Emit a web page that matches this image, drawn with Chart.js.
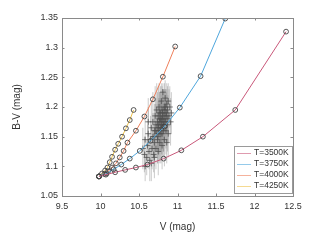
<!DOCTYPE html>
<html lang="en">
<head>
    <meta charset="UTF-8">
    <title>B-V vs V model tracks</title>
    <script src="https://cdn.jsdelivr.net/npm/chart.js"></script>
    <style>
        body { margin: 0; background: #fff; }
        canvas { display: block; }
    </style>
</head>
<body>
    <canvas id="myChart" width="323" height="242"></canvas>

    <script>
        // model tracks, one per temperature
        var trackLabels = ['T=3500K', 'T=3750K', 'T=4000K', 'T=4250K'];
        var trackColors = ['#c9587a', '#4ea6dc', '#ee7f5a', '#eec24a'];

        var v3500  = [9.98, 10.07, 10.19, 10.32, 10.46, 10.61, 10.82, 11.05, 11.33, 11.75, 12.41];
        var bv3500 = [1.083, 1.086, 1.090, 1.094, 1.098, 1.103, 1.113, 1.127, 1.150, 1.195, 1.327];

        var v3750  = [9.98, 10.08, 10.17, 10.27, 10.38, 10.51, 10.65, 10.83, 11.03, 11.30, 11.62];
        var bv3750 = [1.083, 1.088, 1.095, 1.103, 1.113, 1.126, 1.143, 1.167, 1.199, 1.252, 1.349];

        var v4000  = [9.98, 10.05, 10.10, 10.15, 10.20, 10.25, 10.30, 10.35, 10.46, 10.57, 10.68, 10.81, 10.97];
        var bv4000 = [1.083, 1.087, 1.092, 1.098, 1.105, 1.115, 1.126, 1.140, 1.160, 1.184, 1.213, 1.251, 1.302];

        var v4250  = [9.98, 10.02, 10.06, 10.09, 10.12, 10.15, 10.19, 10.23, 10.28, 10.33, 10.38, 10.43];
        var bv4250 = [1.083, 1.088, 1.093, 1.098, 1.107, 1.116, 1.128, 1.138, 1.150, 1.164, 1.178, 1.195];

        // observed stars with errors
        var starV = [10.55, 10.57, 10.58, 10.60, 10.61, 10.62, 10.63, 10.64, 10.65, 10.66,
                     10.67, 10.68, 10.68, 10.69, 10.70, 10.70, 10.71, 10.72, 10.72, 10.73,
                     10.73, 10.74, 10.74, 10.75, 10.75, 10.76, 10.76, 10.77, 10.77, 10.78,
                     10.78, 10.79, 10.79, 10.80, 10.80, 10.80, 10.81, 10.81, 10.82, 10.82,
                     10.83, 10.83, 10.84, 10.84, 10.85, 10.85, 10.86, 10.86, 10.87, 10.87,
                     10.88, 10.88, 10.89, 10.90, 10.91, 10.92, 10.66, 10.70, 10.58, 10.62,
                     10.75, 10.80, 10.86, 10.78, 10.82, 10.76, 10.84, 10.79,
                     10.735, 10.755, 10.765, 10.775, 10.785, 10.795, 10.805, 10.815, 10.825, 10.835,
                     10.745, 10.765, 10.785, 10.805, 10.825, 10.845, 10.695, 10.715, 10.855, 10.875];
        var starBV = [1.130, 1.120, 1.145, 1.115, 1.135, 1.155, 1.125, 1.110, 1.145, 1.165,
                      1.130, 1.150, 1.175, 1.120, 1.160, 1.140, 1.185, 1.170, 1.130, 1.155,
                      1.195, 1.175, 1.145, 1.165, 1.185, 1.200, 1.155, 1.175, 1.140, 1.190,
                      1.165, 1.210, 1.180, 1.170, 1.155, 1.195, 1.185, 1.225, 1.175, 1.160,
                      1.200, 1.145, 1.190, 1.215, 1.175, 1.160, 1.205, 1.185, 1.195, 1.170,
                      1.210, 1.155, 1.185, 1.200, 1.175, 1.190, 1.105, 1.115, 1.100, 1.175,
                      1.125, 1.135, 1.140, 1.180, 1.170, 1.160, 1.180, 1.165,
                      1.165, 1.170, 1.180, 1.160, 1.175, 1.170, 1.180, 1.165, 1.185, 1.175,
                      1.150, 1.190, 1.155, 1.190, 1.195, 1.200, 1.150, 1.160, 1.190, 1.180];
        var starBVErr = [0.035, 0.030, 0.040, 0.030, 0.035, 0.045, 0.030, 0.035, 0.040, 0.045,
                         0.035, 0.040, 0.050, 0.030, 0.045, 0.040, 0.050, 0.045, 0.035, 0.040,
                         0.045, 0.050, 0.040, 0.045, 0.050, 0.040, 0.045, 0.050, 0.035, 0.045,
                         0.040, 0.030, 0.045, 0.050, 0.040, 0.040, 0.045, 0.015, 0.050, 0.045,
                         0.040, 0.045, 0.040, 0.030, 0.045, 0.040, 0.035, 0.045, 0.040, 0.045,
                         0.030, 0.040, 0.045, 0.035, 0.040, 0.035, 0.030, 0.035, 0.025, 0.040,
                         0.040, 0.040, 0.035, 0.045, 0.045, 0.040, 0.040, 0.045,
                         0.040, 0.045, 0.035, 0.050, 0.040, 0.045, 0.035, 0.040, 0.045, 0.040,
                         0.045, 0.035, 0.050, 0.040, 0.035, 0.030, 0.040, 0.045, 0.035, 0.040];
        var starVErr = 0.015;

        var xTickLabels = ['9.5', '10', '10.5', '11', '11.5', '12', '12.5'];
        var yTickLabels = ['1.05', '1.1', '1.15', '1.2', '1.25', '1.3', '1.35'];

        var frameColor = '#8a8a8a';
        var textColor = '#333333';

        function pairs(xs, ys) {
            return xs.map(function (x, i) { return { x: x, y: ys[i] }; });
        }

        var trackX = [v3500, v3750, v4000, v4250];
        var trackY = [bv3500, bv3750, bv4000, bv4250];

        var datasets = trackLabels.map(function (lab, i) {
            return {
                type: 'line',
                label: lab,
                data: pairs(trackX[i], trackY[i]),
                borderColor: trackColors[i],
                borderWidth: 1,
                tension: 0,
                fill: false,
                pointStyle: 'circle',
                pointRadius: 2.4,
                pointBorderWidth: 0.9,
                pointBorderColor: '#444',
                pointBackgroundColor: 'rgba(0,0,0,0)',
                order: 1
            };
        });

        datasets.push({
            type: 'scatter',
            label: 'stars',
            data: pairs(starV, starBV),
            pointStyle: 'cross',
            pointRadius: 3,
            pointBorderWidth: 1,
            pointBorderColor: 'rgba(80,80,80,0.75)',
            order: 5
        });

        // error bars, inward ticks, box and legend drawn through the scales
        var decorations = {
            id: 'decorations',
            beforeDatasetsDraw: function (chart) {
                var ctx = chart.ctx, xs = chart.scales.x, ys = chart.scales.y, a = chart.chartArea;
                ctx.save();
                ctx.beginPath();
                ctx.rect(a.left, a.top, a.right - a.left, a.bottom - a.top);
                ctx.clip();
                ctx.strokeStyle = 'rgba(140,140,140,0.45)';
                ctx.lineWidth = 1;
                for (var i = 0; i < starV.length; i++) {
                    var px = xs.getPixelForValue(starV[i]);
                    var py = ys.getPixelForValue(starBV[i]);
                    ctx.beginPath();
                    ctx.moveTo(px, ys.getPixelForValue(starBV[i] - starBVErr[i]));
                    ctx.lineTo(px, ys.getPixelForValue(starBV[i] + starBVErr[i]));
                    ctx.moveTo(xs.getPixelForValue(starV[i] - starVErr), py);
                    ctx.lineTo(xs.getPixelForValue(starV[i] + starVErr), py);
                    ctx.stroke();
                }
                ctx.restore();
            },
            afterDraw: function (chart) {
                var ctx = chart.ctx, xs = chart.scales.x, ys = chart.scales.y, a = chart.chartArea;
                ctx.save();
                ctx.strokeStyle = frameColor;
                ctx.lineWidth = 1;
                ctx.strokeRect(a.left + 0.5, a.top + 0.5, a.right - a.left, a.bottom - a.top);
                var tl = 2.5;
                ctx.beginPath();
                xTickLabels.forEach(function (t) {
                    var p = Math.round(xs.getPixelForValue(parseFloat(t))) + 0.5;
                    ctx.moveTo(p, a.bottom); ctx.lineTo(p, a.bottom - tl);
                    ctx.moveTo(p, a.top); ctx.lineTo(p, a.top + tl);
                });
                yTickLabels.forEach(function (t) {
                    var p = Math.round(ys.getPixelForValue(parseFloat(t))) + 0.5;
                    ctx.moveTo(a.left, p); ctx.lineTo(a.left + tl, p);
                    ctx.moveTo(a.right, p); ctx.lineTo(a.right - tl, p);
                });
                ctx.stroke();

                // legend box in lower right
                var w = 58, rowH = 11, h = rowH * trackLabels.length + 3;
                var x0 = a.right - w - 1, y0 = a.bottom - h - 3;
                ctx.fillStyle = '#fff';
                ctx.fillRect(x0, y0, w, h);
                ctx.strokeStyle = '#9a9a9a';
                ctx.strokeRect(x0 + 0.5, y0 + 0.5, w, h);
                ctx.font = '8.5px "Liberation Sans", Arial, sans-serif';
                ctx.textBaseline = 'middle';
                ctx.textAlign = 'left';
                trackLabels.forEach(function (lab, i) {
                    var cy = y0 + 7 + i * rowH;
                    ctx.strokeStyle = trackColors[i];
                    ctx.globalAlpha = 0.6;
                    ctx.beginPath();
                    ctx.moveTo(x0 + 3, cy + 0.5);
                    ctx.lineTo(x0 + 17, cy + 0.5);
                    ctx.stroke();
                    ctx.globalAlpha = 1;
                    ctx.fillStyle = textColor;
                    ctx.fillText(lab, x0 + 20, cy);
                });
                ctx.restore();
            }
        };

        var tickFont = { family: '"Liberation Sans", Arial, sans-serif', size: 9 };
        var titleFont = { family: '"Liberation Sans", Arial, sans-serif', size: 10 };

        var ctx = document.getElementById('myChart').getContext('2d');
        var myChart = new Chart(ctx, {
            data: { datasets: datasets },
            options: {
                responsive: false,
                animation: false,
                devicePixelRatio: 1,
                layout: { padding: { left: 0, top: 18, right: 30, bottom: 0 } },
                plugins: {
                    legend: { display: false },
                    tooltip: { enabled: false }
                },
                scales: {
                    x: {
                        type: 'linear',
                        min: 9.5,
                        max: 12.5,
                        afterBuildTicks: function (s) {
                            s.ticks = xTickLabels.map(function (t) { return { value: parseFloat(t) }; });
                        },
                        afterFit: function (s) { s.height = 46; },
                        grid: { display: false, drawTicks: false },
                        border: { display: false },
                        ticks: {
                            color: textColor,
                            font: tickFont,
                            padding: 5,
                            maxRotation: 0,
                            callback: function (v) { return xTickLabels.find(function (t) { return parseFloat(t) === v; }); }
                        },
                        title: {
                            display: true,
                            text: 'V (mag)',
                            color: textColor,
                            font: titleFont,
                            padding: { top: 0, bottom: 9 }
                        }
                    },
                    y: {
                        type: 'linear',
                        min: 1.05,
                        max: 1.35,
                        afterBuildTicks: function (s) {
                            s.ticks = yTickLabels.map(function (t) { return { value: parseFloat(t) }; });
                        },
                        afterFit: function (s) { s.width = 62; },
                        grid: { display: false, drawTicks: false },
                        border: { display: false },
                        ticks: {
                            color: textColor,
                            font: tickFont,
                            padding: 4,
                            callback: function (v) { return yTickLabels.find(function (t) { return parseFloat(t) === v; }); }
                        },
                        title: {
                            display: true,
                            text: 'B-V (mag)',
                            color: textColor,
                            font: titleFont,
                            padding: { top: 11, bottom: 0 }
                        }
                    }
                }
            },
            plugins: [decorations]
        });
    </script>
</body>
</html>
